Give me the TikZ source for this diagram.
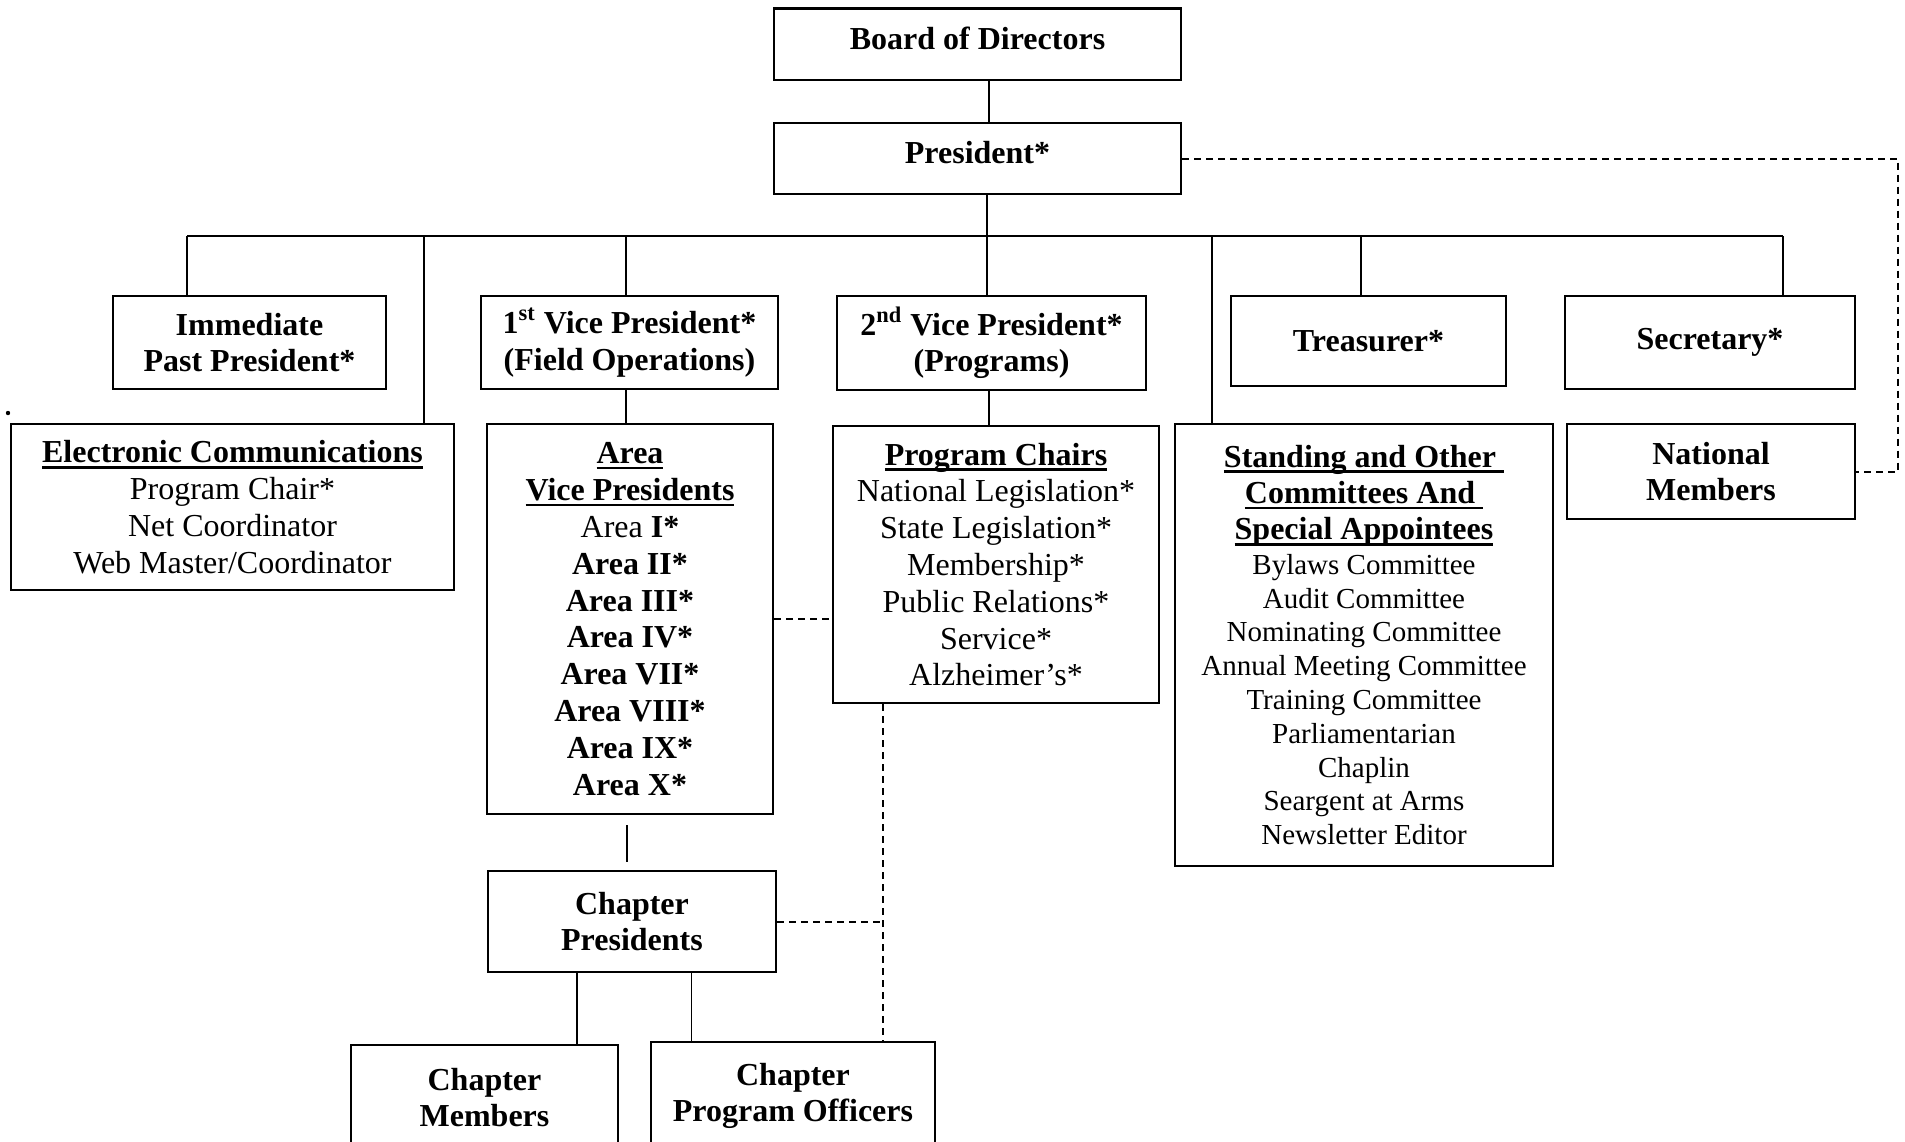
\documentclass[tikz,border=0pt]{standalone}
\usepackage{fontspec}
\setmainfont{Liberation Serif}
\usetikzlibrary{calc}
\newcommand\hul[1]{\setbox0\hbox{#1}\rlap{\rule[-2.8pt]{\wd0}{1.3pt}}\box0}
\newcommand\hdfont{\fontsize{16}{18.4}\selectfont\bfseries}
\begin{document}
\begin{tikzpicture}[x=0.5pt,y=-0.5pt,
  bx/.style={draw, line width=1.1pt, rectangle, inner sep=0pt, align=center},
  bf/.style={font=\fontsize{16}{18.4}\selectfont\bfseries},
  rg/.style={font=\fontsize{16}{18.4}\selectfont},
  sm/.style={font=\fontsize{14.5}{16.9}\selectfont},
  ln/.style={line width=0.95pt},
  busline/.style={line width=1.25pt},
  dsh/.style={line width=1pt, dash pattern=on 3.5pt off 2.5pt}]
\useasboundingbox (0,0) rectangle (1905,1141);
\clip (0,0) rectangle (1905,1141);

% boxes
\node[bx,bf,minimum width=203.5pt,minimum height=35.75pt,text depth=6pt] (board) at (977.5,44.25) {Board of Directors};
\node[bx,bf,minimum width=203.5pt,minimum height=35.5pt,text depth=6pt] (pres) at (977.5,158.5) {President*};
\node[bx,bf,minimum width=136.5pt,minimum height=46.5pt] (ipp) at (249.5,342.5) {Immediate\\Past President*};
\node[bx,bf,minimum width=148.5pt,minimum height=46.5pt] (vp1) at (629.5,342.5) {1\textsuperscript{st} Vice President*\\(Field Operations)};
\node[bx,bf,minimum width=154.5pt,minimum height=47pt] (vp2) at (991.5,343) {2\textsuperscript{nd} Vice President*\\(Programs)};
\node[bx,bf,minimum width=137.5pt,minimum height=45pt] (treas) at (1368.5,341) {Treasurer*};
\node[bx,bf,minimum width=145pt,minimum height=46.5pt] (sec) at (1710,342.5) {Secretary*};

\node[bx,rg,minimum width=221.5pt,minimum height=83pt,text depth=-3pt] (ec) at (232.5,507)
  {\textbf{\hul{Electronic Communications}}\\Program Chair*\\Net Coordinator\\Web Master/Coordinator};
\node[bx,bf,minimum width=143pt,minimum height=195pt] (avp) at (630,619)
  {\hul{Area}\\\hul{Vice Presidents}\\\textmd{Area} I*\\Area II*\\Area III*\\Area IV*\\Area VII*\\Area VIII*\\Area IX*\\Area X*};
\node[bx,rg,minimum width=163pt,minimum height=138.5pt] (pc) at (996,564.5)
  {\textbf{\hul{Program Chairs}}\\National Legislation*\\State Legislation*\\Membership*\\Public Relations*\\Service*\\Alzheimer’s*};
\node[bx,sm,minimum width=189pt,minimum height=221pt] (sc) at (1364,645)
  {{\hdfont\hul{Standing and Other }}\\[1.3pt]{\hdfont\hul{Committees And }}\\[1.3pt]{\hdfont\hul{Special Appointees}}\\[0.3pt]
   Bylaws Committee\\Audit Committee\\Nominating Committee\\Annual Meeting Committee\\Training Committee\\Parliamentarian\\Chaplin\\Seargent at Arms\\Newsletter Editor};
\node[bx,bf,minimum width=144pt,minimum height=47.5pt] (nm) at (1711,471.5) {National\\Members};
\node[bx,bf,minimum width=144pt,minimum height=50.5pt] (cp) at (632,921.5) {Chapter\\Presidents};
\node[bx,bf,minimum width=133.5pt,minimum height=52.5pt] (cm) at (484.5,1097.5) {Chapter\\Members};
\node[bx,bf,minimum width=142pt,minimum height=54pt] (cpo) at (793,1096) {Chapter\\Program Officers};

% connector positions
\coordinate (busL) at (187,236);
\coordinate (busR) at (1783,236);
\coordinate (tEC) at (424,236);
\coordinate (tV1) at (626,236);
\coordinate (tMid) at (987,236);
\coordinate (tSC) at (1212,236);
\coordinate (tTr) at (1361,236);
\coordinate (xBP) at (989,0);
\coordinate (xAC) at (627,0);

% solid connectors
\draw[ln] (xBP |- board.south) -- (xBP |- pres.north);
\draw[ln] (tMid |- pres.south) -- (tMid);
\draw[busline] (busL) -- (busR);
\draw[ln] (busL) -- (busL |- ipp.north);
\draw[ln] (tEC) -- (tEC |- ec.north);
\draw[ln] (tV1) -- (tV1 |- vp1.north);
\draw[ln] (tMid) -- (tMid |- vp2.north);
\draw[ln] (tSC) -- (tSC |- sc.north);
\draw[ln] (tTr) -- (tTr |- treas.north);
\draw[ln] (busR) -- (busR |- sec.north);
\draw[ln] (tV1 |- vp1.south) -- (tV1 |- avp.north);
\draw[ln] (xBP |- vp2.south) -- (xBP |- pc.north);
\draw[ln, shorten <=5pt, shorten >=4pt] (xAC |- avp.south) -- (xAC |- cp.north);
\coordinate (cpA) at ($(cp.south west)!0.31!(cp.south east)$);
\coordinate (cpB) at ($(cp.south west)!0.705!(cp.south east)$);
\draw[ln] (cpA) -- (cpA |- cm.north);
\draw[ln] (cpB) -- (cpB |- cpo.north);

% dashed connectors
\coordinate (dR) at (1898,0);
\coordinate (dP) at ($(pc.south west)+(51,0)$);
\draw[dsh] (avp.east) -- (avp.east -| pc.west);
\draw[dsh] (pres.east) -| (dR |- nm.east) -- (nm.east);
\draw[dsh] (dP) -- (dP |- cpo.north);
\draw[dsh] (cp.east) -- (cp.east -| dP);

% stray dot
\fill (8,413) circle (1.1pt);
\end{tikzpicture}
\end{document}
